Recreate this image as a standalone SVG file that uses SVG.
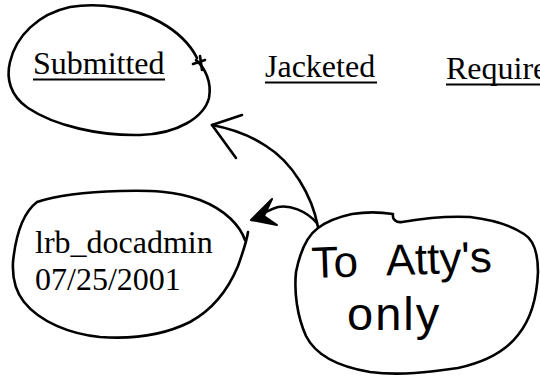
<svg xmlns="http://www.w3.org/2000/svg" width="540" height="381" viewBox="0 0 540 381">
<style>
.lbl{font-family:"Liberation Serif","Times New Roman",serif;font-size:32px;fill:#000}
.ul{stroke:#000;stroke-width:2}
.ink{fill:none;stroke:#000;stroke-width:2.6;stroke-linecap:round;stroke-linejoin:round}
.hand{font-family:"Liberation Sans",Arial,sans-serif;fill:#000}
</style>
<rect width="540" height="381" fill="#fff"/>
<g id="submitted">
<path class="ink" d="M196,60 C205,68 212,82 209,98 C204,117 178,134 140,135 C100,136 55,126 28,108 C10,96 6,78 10,62 C16,36 38,14 70,7 C100,2 135,8 160,22 C178,32 190,44 197,58"/>
<path class="ink" d="M193,64 L205,60 M200,56 L202,70"/>
<text class="lbl" x="33" y="74">Submitted</text>
<line class="ul" x1="33" y1="79.5" x2="165" y2="79.5"/>
</g>
<g id="jacketed">
<text class="lbl" x="265" y="77">Jacketed</text>
<line class="ul" x1="265" y1="82.5" x2="377" y2="82.5"/>
</g>
<g id="required">
<text class="lbl" x="446" y="79">Required</text>
<line class="ul" x1="446" y1="84.5" x2="545" y2="84.5"/>
</g>
<g id="lrb">
<path class="ink" d="M245,240 C240,226 226,210 200,200 C175,191 150,190 120,191 C85,192 55,196 37,202 C24,212 16,232 13,262 C12,280 16,292 24,302 C40,322 70,334 100,337 C140,340 170,332 190,322 C212,310 228,290 238,266 C243,252 247,240 248,232"/>
<text class="lbl" x="35" y="253">lrb_docadmin</text>
<text class="lbl" x="35" y="290">07/25/2001</text>
</g>
<g id="attys">
<path class="ink" d="M318,228 C307,236 300,252 296,272 C294,292 297,316 306,336 C316,356 340,367 370,372 C400,376 430,372 458,368 C485,362 505,352 518,335 C532,318 537,296 538,272 C538,252 534,240 524,234 C512,226 495,220 470,217 C450,216 425,218 402,222 C396,223 392,219 393,214 C380,212 365,212 352,214 C338,217 326,222 318,228"/>
<text class="hand" x="312" y="278" font-size="44" word-spacing="18" transform="rotate(-2 312 278)">To Atty's</text>
<text class="hand" x="347" y="330" font-size="47" letter-spacing="2">only</text>
</g>
<g id="connectors">
<path class="ink" stroke-width="3" d="M318,227 C312,195 292,162 266,146 C248,134 228,128 212,125"/>
<path class="ink" stroke-width="3" d="M242,115 L212,125 L236,158"/>
<path class="ink" stroke-width="3" d="M317,223 C305,210 290,205 278,207 C268,210 260,215 252,220"/>
<path d="M272,199 L251,220 L277,225 L264,216 Z" fill="#000" stroke="#000" stroke-width="2" stroke-linejoin="round"/>
</g>
</svg>
